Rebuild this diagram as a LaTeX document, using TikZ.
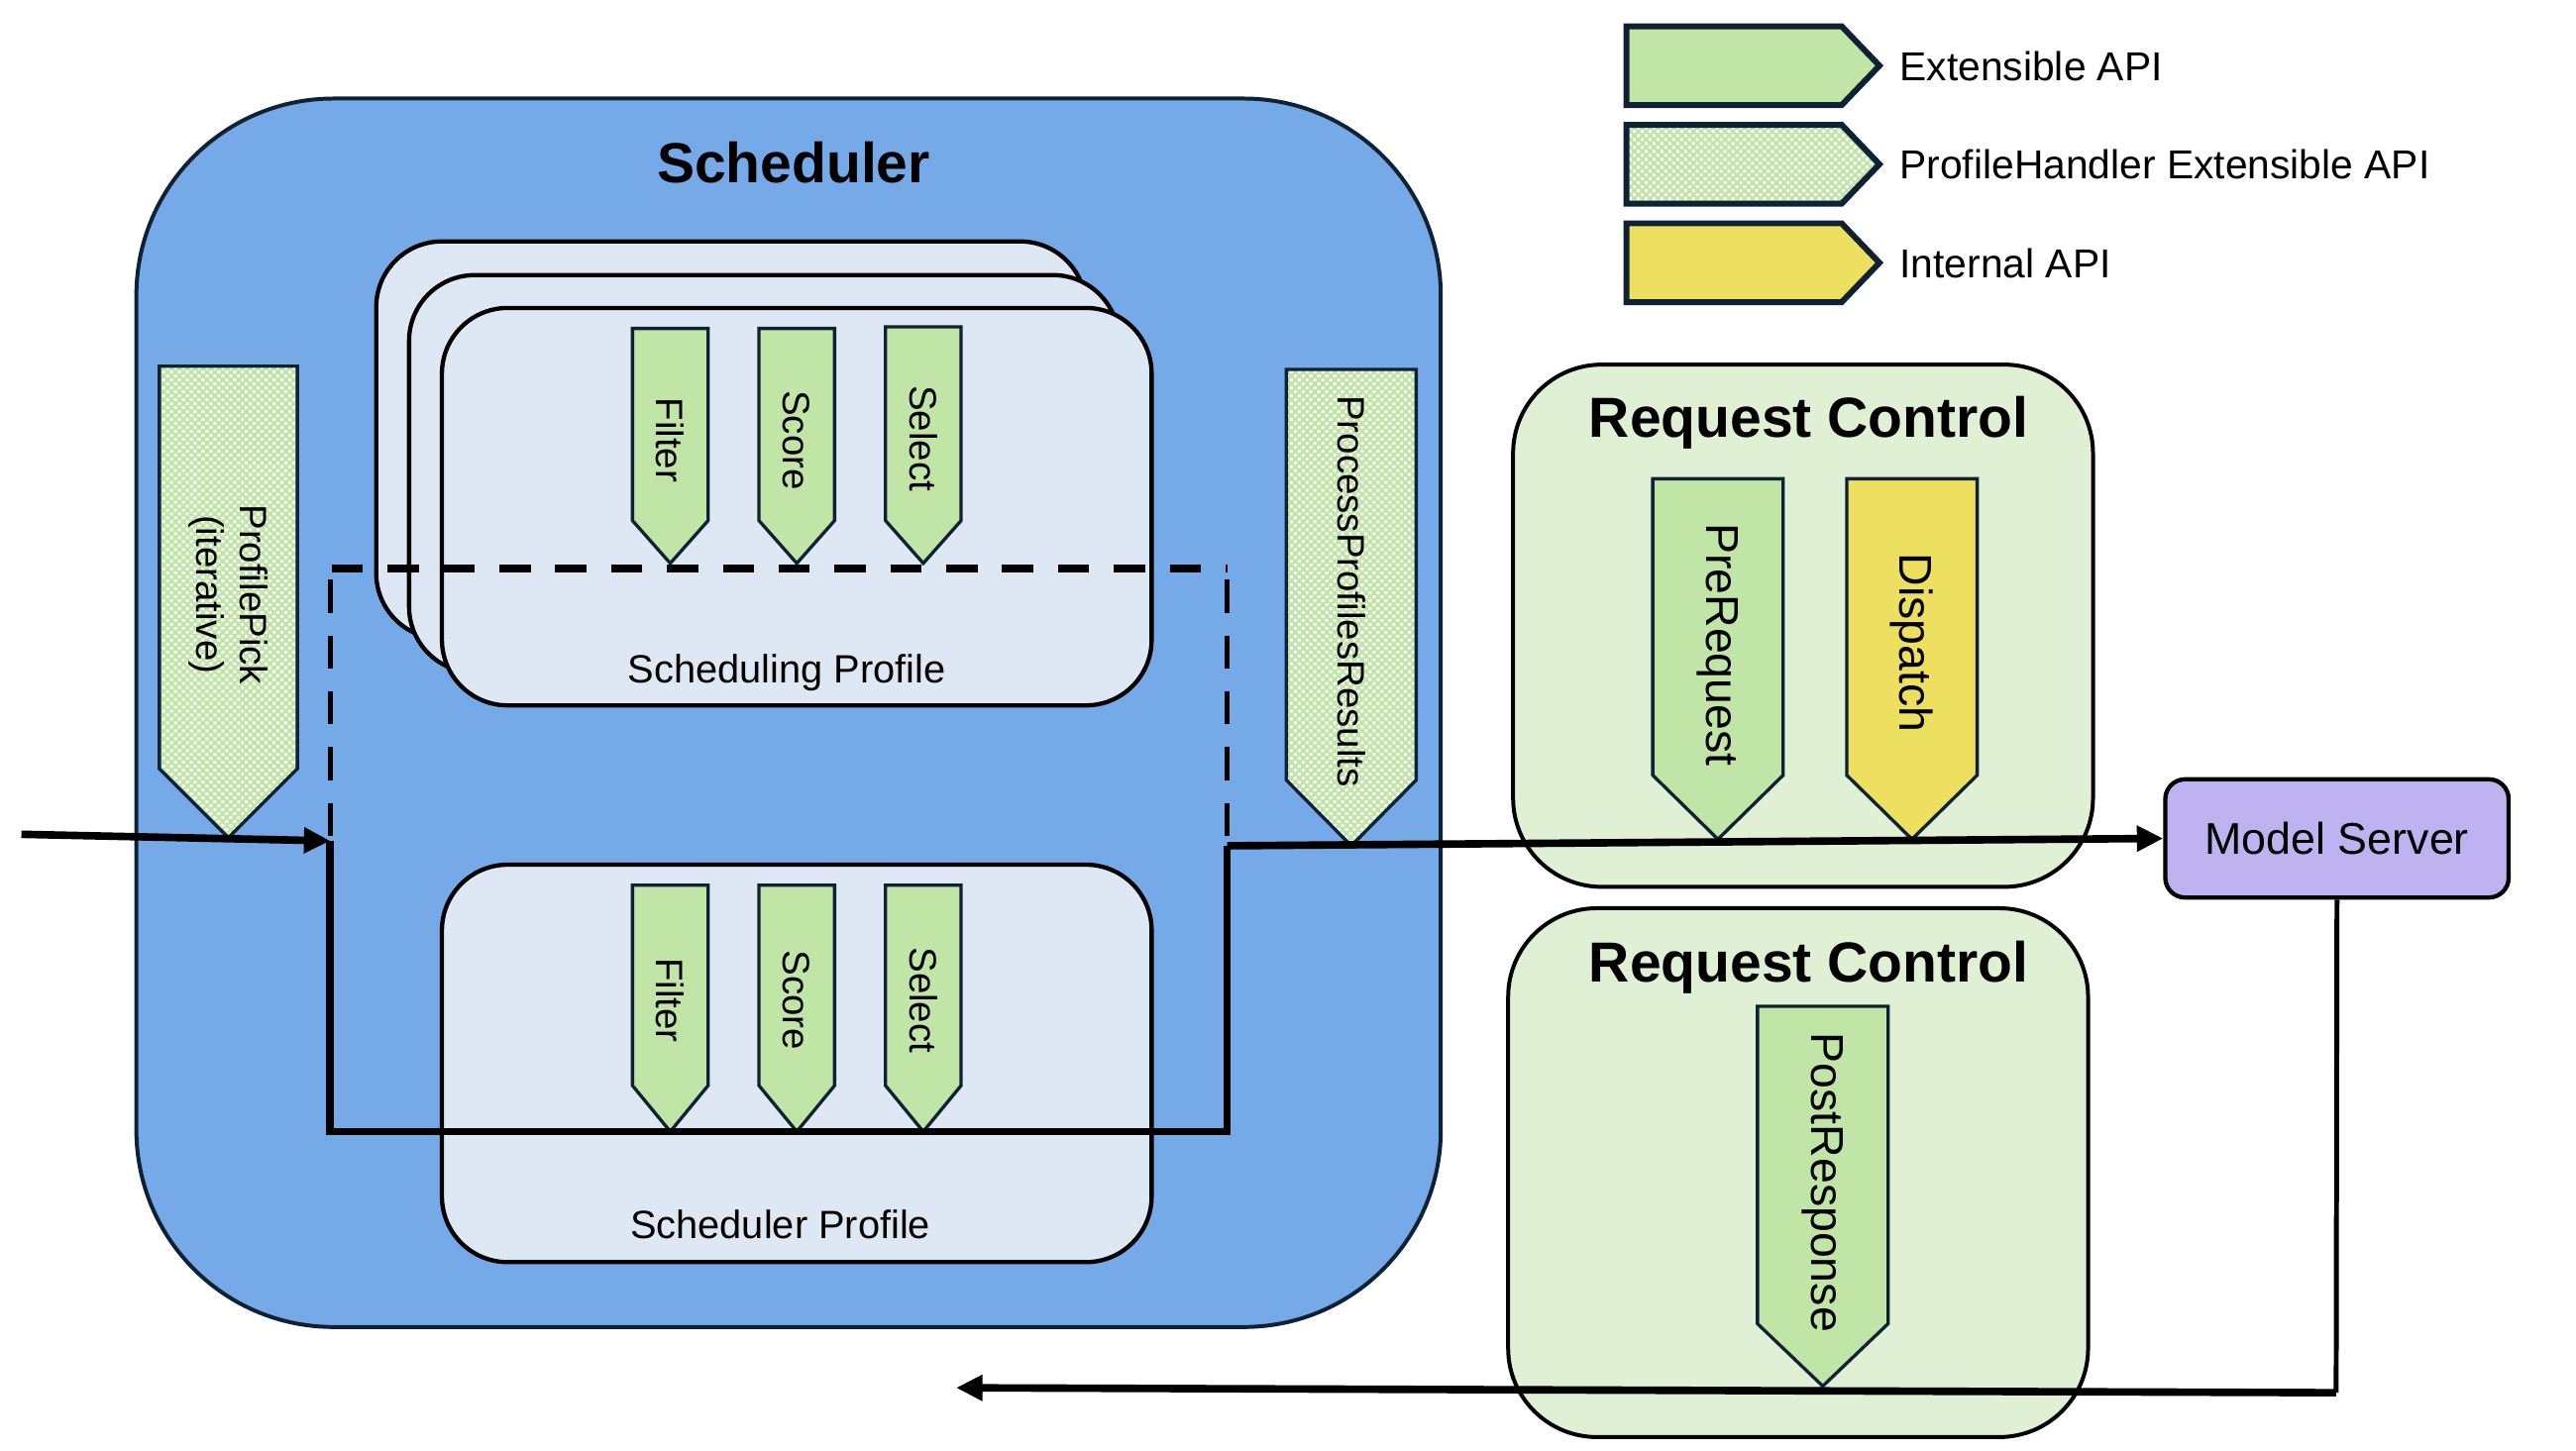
\documentclass[tikz,border=0pt]{standalone}
\usepackage{fontspec}
\setmainfont{Liberation Sans}
\usetikzlibrary{arrows.meta,patterns}
\definecolor{schedblue}{RGB}{118,169,232}
\definecolor{proffill}{RGB}{222,232,245}
\definecolor{apigreen}{RGB}{193,228,167}
\definecolor{rcgreen}{RGB}{223,240,212}
\definecolor{apiyellow}{RGB}{237,223,96}
\definecolor{msviolet}{RGB}{190,178,240}
\definecolor{navy}{RGB}{15,34,51}
\pgfdeclarepatternformonly{wchecker}{\pgfpoint{-0.1pt}{-0.1pt}}{\pgfpoint{2.5pt}{2.5pt}}{\pgfpoint{2.4pt}{2.4pt}}{%
  \pgfpathrectangle{\pgfpoint{0.15pt}{0.15pt}}{\pgfpoint{0.9pt}{0.9pt}}%
  \pgfpathrectangle{\pgfpoint{1.35pt}{1.35pt}}{\pgfpoint{0.9pt}{0.9pt}}%
  \pgfusepath{fill}}
% style, cx, top, width, tip y, tip length
\newcommand\apiarrow[6]{%
  \draw[#1] ({#2-#4/2},#3) -- ({#2+#4/2},#3) -- ({#2+#4/2},{#5-#6}) -- (#2,#5) -- ({#2-#4/2},{#5-#6}) -- cycle;}
% style, top y
\newcommand\legarrow[2]{%
  \draw[#1] (990,#2) -- (1121,#2) -- (1144,{#2+24}) -- (1121,{#2+48}) -- (990,{#2+48}) -- cycle;}
\begin{document}
\begin{tikzpicture}[x=0.5pt,y=-0.5pt,
  schedbox/.style={draw=navy, line width=1.2pt, fill=schedblue, rounded corners=60pt, inner sep=0pt, minimum width=397pt, minimum height=374pt},
  profbox/.style={draw=black, line width=1.3pt, fill=proffill, rounded corners=20pt, minimum width=216pt, minimum height=121pt, inner sep=0pt},
  rcbox/.style={draw=black, line width=1.2pt, fill=rcgreen, rounded corners=27pt, minimum width=176.5pt, inner sep=0pt},
  msbox/.style={draw=black, line width=1.3pt, fill=msviolet, rounded corners=6pt, minimum width=104.5pt, minimum height=36pt, inner sep=0pt},
  apig/.style={draw=navy, line width=1pt, fill=apigreen},
  apiy/.style={draw=navy, line width=1pt, fill=apiyellow},
  apip/.style={draw=navy, line width=1pt, preaction={fill=apigreen}, pattern=wchecker, pattern color=white},
  legg/.style={apig, line width=1.8pt},
  legy/.style={apiy, line width=1.8pt},
  legp/.style={apip, line width=1.8pt},
  rottext/.style={rotate=-90, inner sep=0pt, font=\fontsize{11.6}{13.5}\selectfont, align=center},
  bigrot/.style={rotate=-90, inner sep=0pt, font=\fontsize{14}{16}\selectfont},
  titletext/.style={font=\bfseries\fontsize{17.2}{20}\selectfont, inner sep=0pt, anchor=base},
  labeltext/.style={font=\fontsize{12}{14}\selectfont, inner sep=0pt, anchor=base},
  legtext/.style={font=\fontsize{12.3}{14}\selectfont, inner sep=0pt, anchor=base west},
  conn/.style={line width=2.3pt, black},
  tipped/.style={-{Triangle[length=8pt,width=7.5pt]}},
  dashtop/.style={line width=2.5pt, dash pattern=on 9.5pt off 7.5pt},
  dashside/.style={line width=1.6pt, dash pattern=on 10pt off 7pt}
]
\useasboundingbox (0,0) rectangle (1568,883);
\fill[white] (0,0) rectangle (1568,883);

% Legend
\legarrow{legg}{16}
\legarrow{legp}{76}
\legarrow{legy}{136}
\node[legtext] (lg1) at (1156,49) {Extensible API};
\node[legtext] (lg2) at (1156,109) {ProfileHandler Extensible API};
\node[legtext] (lg3) at (1156,169) {Internal API};

% Scheduler
\node[schedbox] (sched) at (480,434) {};
\node[titletext] (schedtitle) at (483,111) {Scheduler};

% Profile stack
\node[profbox] (profback) at (445,268) {};
\node[profbox] (profmid) at (465,288.5) {};
\node[profbox] (proffront) at (485,308.5) {};
\node[labeltext] (proflabel) at (479,416) {Scheduling Profile};
\apiarrow{apig}{408}{200}{46}{343}{26}
\apiarrow{apig}{485}{200}{46}{343}{26}
\apiarrow{apig}{562}{199}{46}{343}{26}
\node[rottext] (tfilter) at (408,268) {Filter};
\node[rottext] (tscore) at (485,268) {Score};
\node[rottext] (tselect) at (562,267) {Select};

% Scheduler profile
\node[profbox] (schedprof) at (485,647.5) {};
\node[labeltext] (schedproflabel) at (475,754) {Scheduler Profile};
\apiarrow{apig}{408}{539}{46}{689}{28}
\apiarrow{apig}{485}{539}{46}{689}{28}
\apiarrow{apig}{562}{539}{46}{689}{28}
\node[rottext] (bfilter) at (408,609) {Filter};
\node[rottext] (bscore) at (485,609) {Score};
\node[rottext] (bselect) at (562,609) {Select};

% ProfilePick / ProcessProfilesResults
\apiarrow{apip}{139}{223}{84}{510}{42}
\node[rottext] (ppick) at (139,362) {ProfilePick\\(iterative)};
\apiarrow{apip}{822.5}{225}{79}{515}{40}
\node[rottext] (pres) at (822.5,360) {ProcessProfilesResults};

% Request Control 1
\node[rcbox, minimum height=159pt] (rc1) at (1097.5,381) {};
\node[titletext] (rc1title) at (1101,266) {Request Control};
\apiarrow{apig}{1045.7}{291.5}{79.4}{511}{39}
\apiarrow{apiy}{1163.8}{291.5}{79.4}{511}{39}
\node[bigrot] (prereq) at (1045.7,392.5) {PreRequest};
\node[bigrot] (dispatch) at (1163.8,391.5) {Dispatch};

% Request Control 2
\node[rcbox, minimum height=161pt] (rc2) at (1094.5,714) {};
\node[titletext] (rc2title) at (1101,598) {Request Control};
\apiarrow{apig}{1109.5}{612.7}{79.5}{844}{38}
\node[bigrot] (postresp) at (1109.5,720) {PostResponse};

% Model Server
\node[msbox] (ms) at (1422.5,510.5) {};
\node[labeltext, font=\fontsize{13.5}{15}\selectfont] (mstext) at (1422.5,520) {Model Server};

% Dashed frame
\coordinate (dTL) at (202,346);
\coordinate (dTR) at (747,346);
\coordinate (dL) at (201,353);
\coordinate (dR) at (747,353);
\coordinate (inStart) at (13,508);
\coordinate (inEnd) at (201,512);
\coordinate (loopBL) at (201,689);
\coordinate (loopBR) at (747,689);
\coordinate (loopTR) at (747,515);
\coordinate (retCorner) at (1422,848);
\coordinate (retEnd) at (582,845);
\draw[dashtop] (dTL) -- (dTR);
\draw[dashside] (dL) -- (inEnd);
\draw[dashside] (dR) -- (loopTR);

% Connectors
\draw[conn,tipped] (inStart) -- (inEnd);
\draw[conn] (inEnd) -- (loopBL) -- (loopBR) -- (loopTR);
\draw[conn,tipped] (loopTR) -- (ms.west);
\draw[line width=1.5pt] (ms.south) -- (retCorner);
\draw[conn,tipped] (retCorner) -- (retEnd);
\end{tikzpicture}
\end{document}
